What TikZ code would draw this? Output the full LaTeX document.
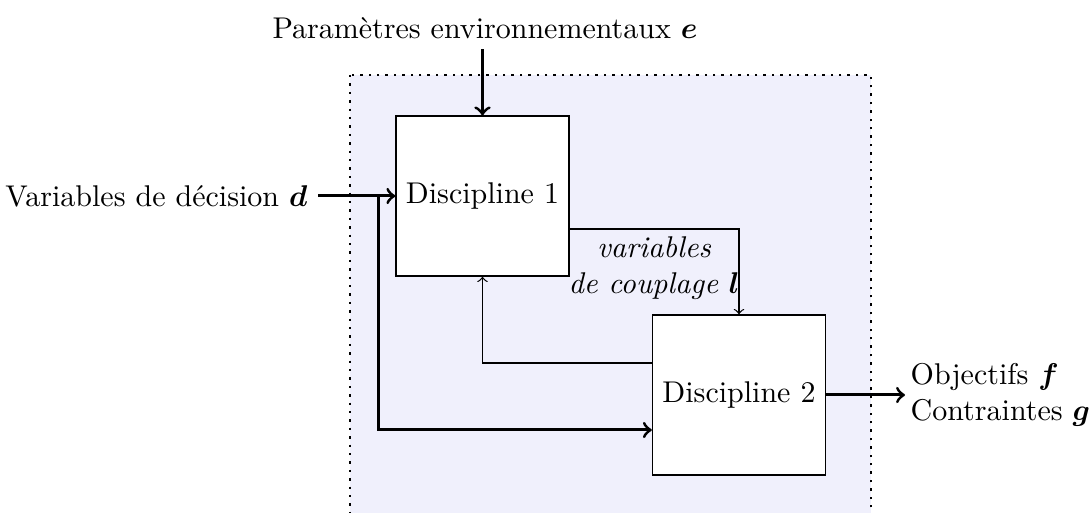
\documentclass[tikz,border=0pt]{standalone}
\usepackage{amsmath}
\usepackage{amssymb}
\usepackage{tikz}
\usetikzlibrary{positioning,calc,arrows}
\definecolor{ink}    {HTML}{000000}
\definecolor{mdofill}{HTML}{F0F0FC}
\tikzset{
  % --- nodes
  disc/.style  = {draw=ink, fill=white, align=center, thin,
                  minimum width=55.7pt, minimum height=53.3pt},
  lbl/.style   = {align=left, inner xsep=1.7pt},
  cpl/.style   = {align=center, font=\itshape},
  % --- edges
  e/.style     = {->, line width=1pt, draw=ink},
  ethin/.style = {->, thin, draw=ink},
  zone/.style  = {fill=mdofill, draw=ink, dotted, thick},
}
\begin{document}
\begin{tikzpicture}[x=0.3333pt, y=-0.3333pt]
  \useasboundingbox (0,0) rectangle (1090,513);
  \draw[zone] (350,75) rectangle (871,560);

  \node[disc] (d1) at (482.5,196) {Discipline 1};
  \node[disc] (d2) at (739,395) {Discipline 2};
  \node (env) at (485,28) {Param\`etres environnementaux $\boldsymbol{e}$};
  \node[anchor=east] (dec) at (318,196) {Variables de d\'ecision $\boldsymbol{d}$};
  \node[lbl, anchor=west] (out) at (905,395) {Objectifs $\boldsymbol{f}$\\Contraintes $\boldsymbol{g}$};
  \node[cpl] (cpl) at (654,268) {variables\\de couplage $\boldsymbol{l}$};
  \coordinate (br) at (378,196);

  \draw[e] (env.south -| d1.north) -- (d1);
  \draw[e] (dec) -- (d1);
  \draw[e] (br) |- ($(d2.west)+(0,35)$);
  \draw[e] (d2) -- (out);
  \draw[ethin] ($(d1.east)+(0,33)$) -| (d2.north);
  \draw[ethin] ($(d2.west)+(0,-32)$) -| (d1.south);
\end{tikzpicture}
\end{document}
